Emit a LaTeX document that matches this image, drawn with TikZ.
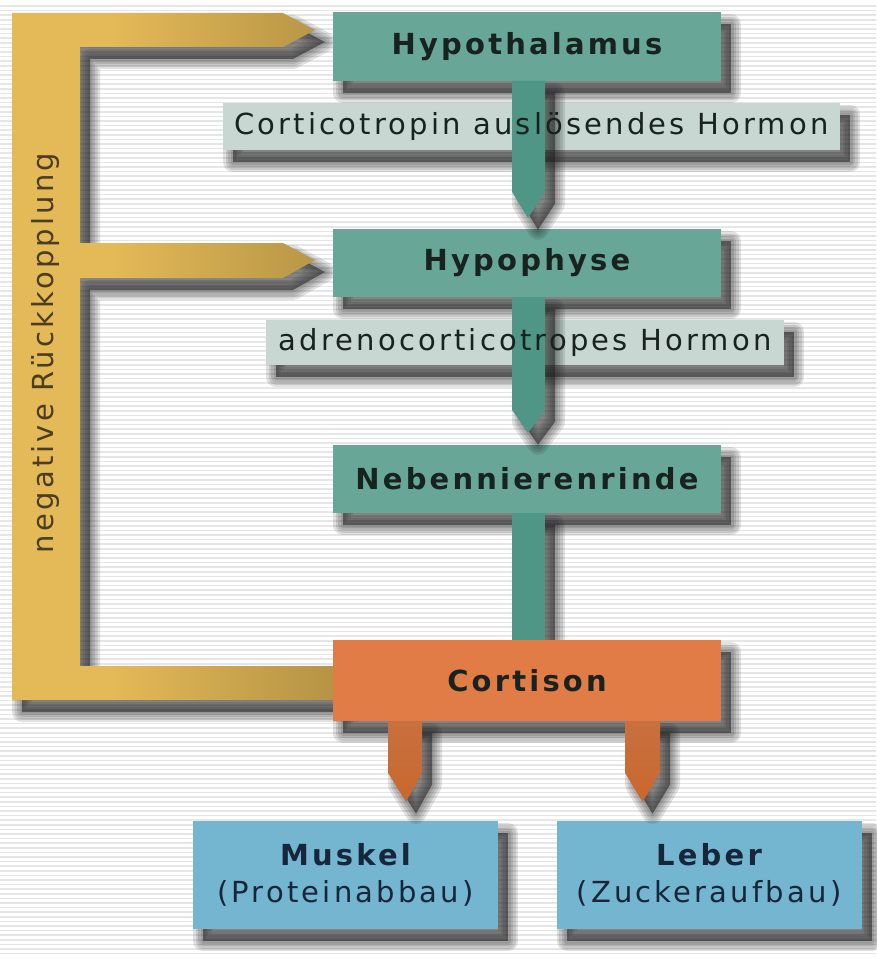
\documentclass[tikz,border=0pt]{standalone}
\usepackage{fontspec}
\setmainfont{DejaVu Sans}
\newfontfamily\dvs[LetterSpace=11]{DejaVu Sans}
\usetikzlibrary{calc}
\definecolor{tealbox}{HTML}{68A697}
\definecolor{stemcol}{HTML}{4F9686}
\definecolor{labcol}{HTML}{C9D7D2}
\definecolor{goldA}{HTML}{E4B957}
\definecolor{goldB}{HTML}{8F7637}
\definecolor{orangebox}{HTML}{E27C46}
\definecolor{orangeA}{HTML}{C8703F}
\definecolor{orangeB}{HTML}{EA8B4F}
\definecolor{orangeC}{HTML}{C9682F}
\definecolor{bluebox}{HTML}{74B5D0}
\definecolor{darktxt}{HTML}{18221F}
\definecolor{navytxt}{HTML}{17263A}
\definecolor{fbtxt}{HTML}{4A3D22}
\definecolor{stripecol}{HTML}{E6E6E6}
\definecolor{shadowcol}{HTML}{1E1E1E}
\pgfdeclarehorizontalshading{goldsh}{100bp}{color(0bp)=(goldA); color(40bp)=(goldA); color(100bp)=(goldB)}
\begin{document}
\begin{tikzpicture}[x=1pt,y=-1pt,
  shlayer/.style={preaction={draw=shadowcol, draw opacity=0.13, line width=#1, line join=round,
      transform canvas={shift={(10pt,-12pt)}}}},
  shad/.style={shlayer=20pt, shlayer=15pt, shlayer=10pt, shlayer=5pt,
    preaction={fill=shadowcol, fill opacity=0.55, transform canvas={shift={(10pt,-12pt)}}}},
  mainbox/.style={rectangle, fill=tealbox, minimum width=388pt, minimum height=68pt, inner sep=0pt,
    text=darktxt, font=\dvs\bfseries\fontsize{29}{37}\selectfont, shad},
  cortbox/.style={mainbox, fill=orangebox, minimum height=81pt},
  targetbox/.style={rectangle, fill=bluebox, minimum width=305pt, minimum height=108pt, inner sep=0pt,
    align=center, text=navytxt, font=\dvs\fontsize{29}{37}\selectfont, shad},
  labbox/.style={rectangle, fill=labcol, inner sep=0pt, shad},
  labtext/.style={inner sep=0pt, text=darktxt, font=\dvs\fontsize{29}{37}\selectfont},
  fbtext/.style={inner sep=0pt, text=fbtxt, font=\dvs\fontsize{29}{37}\selectfont},
  stemshape/.style={fill=stemcol, shad},
  orangearrow/.style={top color=orangeA, middle color=orangeB, bottom color=orangeC, shad}
]
\useasboundingbox (0,0) rectangle (876,958);
\fill[white] (0,0) rectangle (876,958);
\foreach \k in {0,...,206} \draw[stripecol, line width=1.6pt] (0,{6+\k*4.6}) -- (876,{6+\k*4.6});

% feedback bracket
\path[shad, shading=goldsh] (12,13) -- (283,13) -- (315,30) -- (283,47) -- (80,47) -- (80,243)
  -- (283,243) -- (315,260) -- (283,278) -- (80,278) -- (80,666) -- (345,666) -- (345,700)
  -- (12,700) -- cycle;
\node[fbtext, rotate=90] (fb) at (45,353) {negative Rückkopplung};

% connector label boxes
\node[labbox, minimum width=617pt, minimum height=47pt] (lab1) at (531.5,126.5) {};
\node[labbox, minimum width=518pt, minimum height=45pt] (lab2) at (525,342.5) {};

% main boxes
\node[mainbox] (hyp) at (527,46.5) {Hypothalamus};
\node[mainbox] (hyp2) at (527,263) {Hypophyse};
\node[mainbox] (neb) at (527,479) {Nebennierenrinde};
\node[cortbox] (cort) at (527,680.5) {Cortison};
\node[targetbox] (musk) at (345.5,875) {{\bfseries Muskel}\\(Proteinabbau)};
\node[targetbox] (leb) at (709,875) {{\bfseries Leber}\\(Zuckeraufbau)};

% connectors
\path[stemshape] ($(hyp.south)+(-15,0)$) -- ($(hyp2.north)+(-15,-37)$) -- ($(hyp2.north)+(1,-11)$)
  -- ($(hyp2.north)+(18,-37)$) -- ($(hyp.south)+(18,0)$) -- cycle;
\path[stemshape] ($(hyp2.south)+(-15,0)$) -- ($(neb.north)+(-15,-35)$) -- ($(neb.north)+(1,-12)$)
  -- ($(neb.north)+(18,-35)$) -- ($(hyp2.south)+(18,0)$) -- cycle;
\begin{scope}
  \clip (0,0) rectangle ($(cort.north)+(349,0)$);
  \path[stemshape] ($(neb.south)+(-15,0)$) -- ($(cort.north)+(-15,1)$)
    -- ($(cort.north)+(18,1)$) -- ($(neb.south)+(18,0)$) -- cycle;
\end{scope}
\path[orangearrow] ($(cort.south)+(-139,0)$) -- ($(cort.south|-musk.north)+(-139,-48)$)
  -- ($(cort.south|-musk.north)+(-121,-19)$) -- ($(cort.south|-musk.north)+(-105,-48)$)
  -- ($(cort.south)+(-105,0)$) -- cycle;
\path[orangearrow] ($(cort.south)+(98,0)$) -- ($(cort.south|-leb.north)+(98,-48)$)
  -- ($(cort.south|-leb.north)+(115.5,-19)$) -- ($(cort.south|-leb.north)+(133,-48)$)
  -- ($(cort.south)+(133,0)$) -- cycle;

% connector labels
\node[labtext] (t1) at (lab1) {Corticotropin auslösendes Hormon};
\node[labtext] (t2) at (lab2) {adrenocorticotropes Hormon};
\end{tikzpicture}
\end{document}
